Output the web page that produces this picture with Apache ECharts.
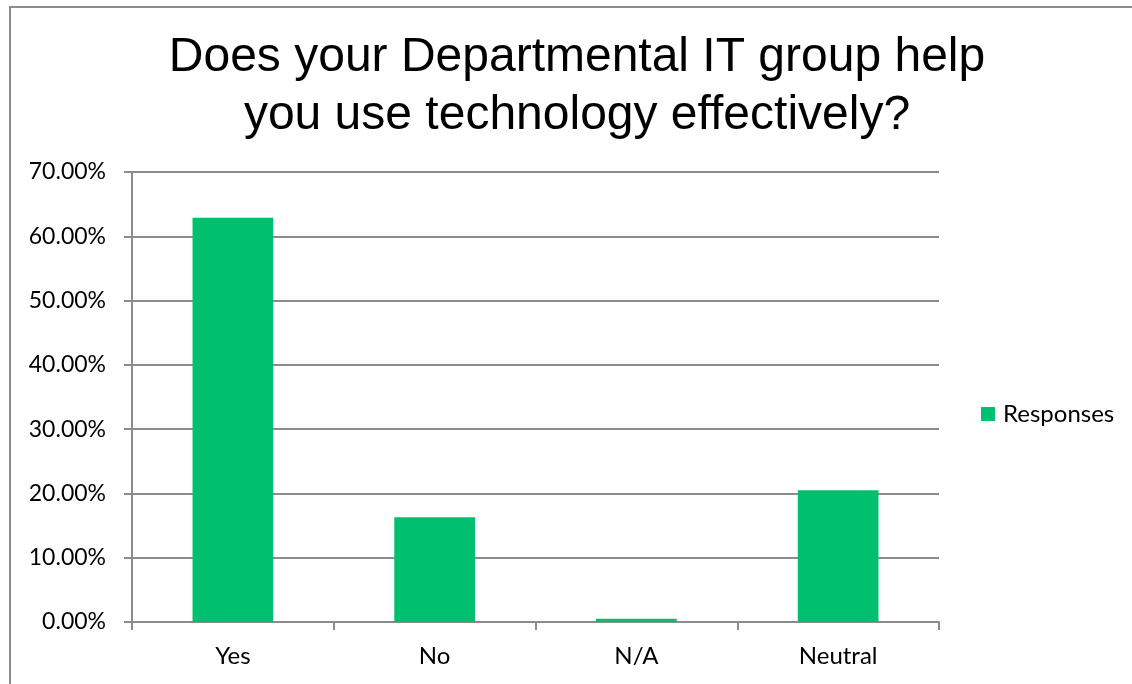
<!DOCTYPE html>
<html>
<head>
<meta charset="utf-8">
<script src="https://cdn.jsdelivr.net/npm/echarts@6/dist/echarts.min.js"></script>
<style>
  html, body { margin: 0; padding: 0; background: #fff; overflow: hidden; }
  #chart { width: 1132px; height: 684px; }
</style>
</head>
<body>
<div id="chart"></div>
<script>
// Survey answers and their share of responses (percent)
const categories = ['Yes', 'No', 'N/A', 'Neutral'];
const responses = [62.9, 16.3, 0.5, 20.5];
const seriesName = 'Responses';
const titleLines = ['Does your Departmental IT group help', 'you use technology effectively?'];

const chart = echarts.init(document.getElementById('chart'), null, { renderer: 'canvas' });

const labelFont = 'Lato, "Open Sans", sans-serif';
const lineGray = '#8c8c8c';

chart.setOption({
  animation: false,
  backgroundColor: '#fff',
  graphic: [
    // frame: top edge and left edge
    {
      type: 'line',
      shape: { x1: 9, y1: 7, x2: 1132, y2: 7 },
      style: { stroke: lineGray, lineWidth: 2 },
      silent: true
    },
    {
      type: 'line',
      shape: { x1: 10, y1: 6, x2: 10, y2: 684 },
      style: { stroke: lineGray, lineWidth: 2 },
      silent: true
    }
  ],
  title: {
    text: titleLines.join('\n'),
    left: 572,
    textAlign: 'center',
    top: 24,
    textStyle: {
      fontFamily: '"Liberation Sans", Arial, sans-serif',
      fontSize: 48,
      fontWeight: 'normal',
      color: '#000',
      lineHeight: 58
    }
  },
  legend: {
    data: [seriesName],
    orient: 'vertical',
    left: 981,
    top: 402,
    padding: 0,
    itemWidth: 14,
    itemHeight: 14,
    itemGap: 8,
    icon: 'rect',
    textStyle: { fontFamily: labelFont, fontSize: 24, color: '#000', padding: [0, 0, 0, 3] }
  },
  grid: { left: 132, right: 193, top: 172, bottom: 62, containLabel: false },
  xAxis: {
    type: 'category',
    data: categories,
    axisLine: { lineStyle: { color: lineGray, width: 2 } },
    axisTick: { show: true, length: 8, lineStyle: { color: lineGray, width: 2 } },
    axisLabel: { fontFamily: labelFont, fontSize: 24, color: '#000', margin: 22 }
  },
  yAxis: {
    type: 'value',
    min: 0,
    max: 70,
    interval: 10,
    axisLine: { show: true, lineStyle: { color: lineGray, width: 2 } },
    axisTick: { show: true, length: 8, lineStyle: { color: lineGray, width: 2 } },
    splitLine: { show: true, lineStyle: { color: lineGray, width: 2 } },
    axisLabel: {
      fontFamily: labelFont,
      fontSize: 23,
      color: '#000',
      margin: 26,
      formatter: v => v.toFixed(2) + '%'
    }
  },
  series: [
    {
      name: seriesName,
      type: 'bar',
      data: responses,
      barWidth: '40%',
      itemStyle: { color: '#00c06f' },
      z: 3
    }
  ]
});
</script>
</body>
</html>
